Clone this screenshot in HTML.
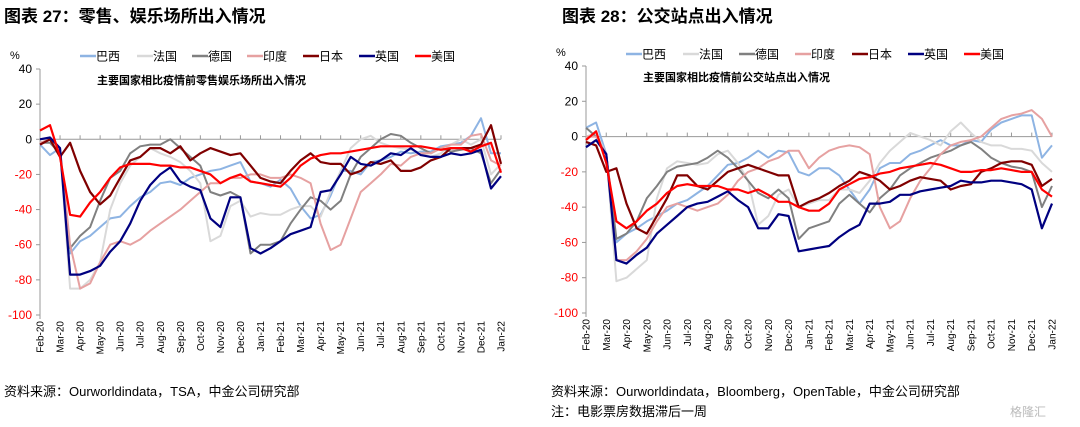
<!DOCTYPE html>
<html><head><meta charset="utf-8"><style>
body{margin:0;background:#fff;width:1080px;height:427px;overflow:hidden;font-family:"Liberation Sans","Noto Sans CJK SC",sans-serif;}
svg{display:block}
</style></head><body>
<svg id="svg" width="1080" height="427" xmlns="http://www.w3.org/2000/svg" font-family="Liberation Sans, Noto Sans CJK SC, sans-serif">
<text x="4" y="22" font-size="17" font-weight="bold" fill="#000">图表 27：零售、娱乐场所出入情况</text>
<text x="562" y="22" font-size="17" font-weight="bold" fill="#000">图表 28：公交站点出入情况</text>
<text x="4" y="396" font-size="13" fill="#000">资料来源：Ourworldindata，TSA，中金公司研究部</text>
<text x="551" y="396" font-size="13" fill="#000">资料来源：Ourworldindata，Bloomberg，OpenTable，中金公司研究部</text>
<text x="551" y="416" font-size="13" fill="#000">注：电影票房数据滞后一周</text>
<text x="1010" y="416" font-size="12" fill="#bbb">格隆汇</text>
<g id="left"></g>
<g id="right"></g>
</svg>
<script>
const months = ["Feb-20","Mar-20","Apr-20","May-20","Jun-20","Jul-20","Aug-20","Sep-20","Oct-20","Nov-20","Dec-20","Jan-21","Feb-21","Mar-21","Apr-21","May-21","Jun-21","Jul-21","Aug-21","Sep-21","Oct-21","Nov-21","Dec-21","Jan-22"];
const yTicks = [40,20,0,-20,-40,-60,-80,-100];
const seriesNames = ["巴西","法国","德国","印度","日本","英国","美国"];
// Left chart: retail & recreation (half-month steps)
const retailBrazil = [-3,-9,-5,-65,-58,-55,-50,-45,-44,-38,-33,-30,-25,-24,-26,-22,-20,-18,-17,-15,-13,-24,-25,-27,-23,-28,-38,-45,-43,-32,-18,-18,-20,-13,-12,-10,-7,-8,-7,-7,-4,-3,-2,2,12,-8,-8];
const retailFrance = [-2,0,-5,-85,-85,-80,-70,-40,-25,-15,-10,-5,-8,-10,-13,-18,-25,-58,-55,-38,-35,-44,-42,-43,-43,-40,-38,-38,-44,-30,-18,-5,0,2,-2,-4,-5,-6,-8,-10,-8,-3,0,-3,0,-20,-14];
const retailGermany = [-2,-2,-8,-62,-55,-50,-35,-22,-18,-8,-4,-3,-3,0,-5,-10,-15,-30,-32,-30,-33,-65,-60,-60,-58,-48,-40,-33,-35,-40,-35,-20,-10,-5,0,3,2,-2,-5,-8,-5,-7,-6,-5,-8,-25,-17];
const retailIndia = [-2,0,-5,-60,-85,-82,-70,-60,-58,-60,-57,-52,-48,-44,-40,-35,-30,-25,-25,-22,-22,-20,-20,-22,-22,-20,-22,-25,-48,-63,-60,-45,-30,-25,-20,-14,-15,-10,-8,-8,-5,-3,-3,2,3,-12,-15];
const retailJapan = [-3,0,-10,-2,-18,-30,-37,-32,-22,-12,-10,-5,-5,-8,-4,-12,-8,-5,-7,-9,-8,-15,-22,-24,-25,-18,-12,-8,-13,-14,-14,-20,-18,-13,-14,-12,-18,-18,-16,-12,-10,-5,-5,-5,-3,8,-14];
const retailUK = [0,1,-5,-77,-77,-75,-72,-64,-58,-48,-35,-26,-20,-16,-24,-27,-29,-45,-50,-33,-33,-62,-65,-62,-58,-54,-52,-50,-30,-29,-20,-10,-14,-15,-12,-8,-9,-5,-9,-10,-10,-8,-9,-8,-6,-28,-21];
const retailUS = [5,8,-10,-43,-44,-36,-30,-22,-16,-14,-14,-14,-15,-15,-16,-16,-18,-20,-25,-22,-20,-24,-25,-26,-27,-22,-15,-11,-9,-8,-8,-7,-6,-5,-4,-4,-4,-4,-4,-5,-6,-5,-5,-7,-4,-2,-19];
// Right chart: transit stations
const transitBrazil = [5,8,-10,-60,-55,-52,-48,-45,-42,-38,-36,-32,-28,-22,-16,-15,-12,-8,-12,-8,-9,-20,-22,-18,-18,-22,-30,-38,-30,-18,-15,-15,-10,-8,-5,-2,-5,-5,-2,-3,4,8,10,12,12,-12,-5];
const transitFrance = [0,2,-10,-82,-80,-75,-70,-35,-18,-14,-15,-16,-15,-10,-8,-15,-25,-50,-45,-33,-30,-40,-38,-36,-36,-30,-30,-32,-25,-15,-8,-3,2,0,-2,-5,3,8,2,-3,-5,-5,-7,-7,-8,-15,-20];
const transitGermany = [5,0,-10,-58,-55,-48,-35,-28,-20,-17,-16,-15,-12,-8,-12,-18,-25,-32,-35,-30,-35,-58,-52,-50,-48,-38,-33,-38,-43,-35,-30,-22,-18,-15,-12,-10,-8,-5,-3,-7,-12,-15,-17,-18,-20,-40,-28];
const transitIndia = [0,0,-10,-70,-70,-65,-58,-48,-40,-38,-40,-42,-40,-38,-33,-25,-20,-18,-14,-12,-8,-8,-18,-12,-8,-6,-5,-6,-10,-40,-52,-48,-35,-25,-18,-10,-5,-3,-2,0,5,10,12,13,15,10,0];
const transitJapan = [-3,-5,-20,-18,-38,-52,-55,-45,-35,-22,-22,-28,-30,-25,-20,-18,-16,-18,-20,-22,-22,-40,-37,-35,-32,-28,-25,-20,-22,-25,-30,-28,-25,-23,-24,-25,-30,-28,-27,-20,-18,-15,-14,-14,-16,-28,-24];
const transitUK = [-6,-2,-10,-70,-72,-67,-63,-55,-50,-45,-40,-38,-37,-34,-31,-36,-40,-52,-52,-44,-45,-65,-64,-63,-62,-57,-53,-50,-38,-38,-37,-33,-33,-31,-30,-29,-28,-25,-26,-26,-25,-25,-26,-27,-30,-52,-38];
const transitUS = [-2,3,-15,-48,-52,-48,-42,-38,-32,-28,-27,-28,-28,-28,-30,-30,-32,-30,-33,-37,-37,-40,-42,-42,-38,-30,-27,-24,-23,-21,-20,-18,-17,-16,-15,-16,-18,-20,-20,-19,-19,-18,-19,-20,-20,-30,-34];

const colors = ["#8EB4E3","#D9D9D9","#808080","#E6A1A1","#800000","#000080","#FF0000"];
const widths = [2,2,2,2,2.2,2.2,2.2];
const NS="http://www.w3.org/2000/svg";
function mk(tag, attrs, parent){const e=document.createElementNS(NS,tag);for(const k in attrs)e.setAttribute(k,attrs[k]);parent.appendChild(e);return e;}

function drawChart(g, cfg, data, key){
  const yS = v => cfg.y0 + (cfg.ymax - v) * (cfg.y1 - cfg.y0) / (cfg.ymax - cfg.ymin);
  const xS = i => cfg.x0 + i * (cfg.x1 - cfg.x0) / (data[0].length - 1);
  const mx = m => cfg.x0 + m * (cfg.x1 - cfg.x0) / (months.length - 1);
  // y axis
  const ya = mk('line',{x1:cfg.x0,x2:cfg.x0,y1:cfg.y0,y2:cfg.y1+4,stroke:'#999','stroke-width':1},g);
  
  
  yTicks.forEach(t=>{
    const tk = mk('line',{x1:cfg.x0-4,x2:cfg.x0,y1:yS(t),y2:yS(t),stroke:'#999'},g);
    
    
    const tx = mk('text',{x:cfg.x0-8,y:yS(t)+4,'font-size':12,'text-anchor':'end',fill:t<0?'#FF0000':'#000'},g);
    tx.textContent = t;
    
    
  });
  const pct = mk('text',{x:cfg.x0-30,y:cfg.y0-10,'font-size':11,fill:'#000'},g);
  pct.textContent='%';
  
  
  // zero line (x axis)
  const za = mk('line',{x1:cfg.x0,x2:cfg.x1,y1:yS(0),y2:yS(0),stroke:'#999'},g);
  
  
  months.forEach((m,i)=>{
    const tk = mk('line',{x1:mx(i),x2:mx(i),y1:yS(0)-4,y2:yS(0),stroke:'#999'},g);
    
    
    const tx = mk('text',{x:0,y:0,'font-size':10,'text-anchor':'end',fill:'#000',transform:`translate(${mx(i)+3.5},${cfg.y1+6}) rotate(-90)`},g);
    tx.textContent = m;
    
    
  });
  // subtitle
  const st = mk('text',{x:cfg.subX,y:cfg.y0+15,'font-size':11,'font-weight':'bold',fill:'#000'},g);
  st.textContent = cfg.sub;
  
  
  // legend
  seriesNames.forEach((n,s)=>{
    const lx = cfg.legX[s];
    const ln = mk('line',{x1:lx,x2:lx+16,y1:cfg.legY,y2:cfg.legY,stroke:colors[s],'stroke-width':2.5},g);
    
    
    const tx = mk('text',{x:lx+16,y:cfg.legY+4.5,'font-size':12,fill:'#000'},g);
    tx.textContent = n;
    
    
  });
  // series
  data.forEach((arr,s)=>{
    const d = arr.map((v,i)=>(i?'L':'M')+xS(i).toFixed(1)+','+yS(v).toFixed(1)).join('');
    const p = mk('path',{d:d,fill:'none',stroke:colors[s],'stroke-width':widths[s],'stroke-linejoin':'round'},g);
    
    
  });
}
drawChart(document.getElementById('left'),
  {x0:40,x1:501,y0:69,y1:315,ymax:40,ymin:-100,sub:'主要国家相比疫情前零售娱乐场所出入情况',subX:97,legX:[80,137,192,247,303,359,415],legY:56},
  [retailBrazil,retailFrance,retailGermany,retailIndia,retailJapan,retailUK,retailUS],'left');
drawChart(document.getElementById('right'),
  {x0:586,x1:1052,y0:66,y1:313,ymax:40,ymin:-100,sub:'主要国家相比疫情前公交站点出入情况',subX:643,legX:[626,683,739,795,852,908,964],legY:54},
  [transitBrazil,transitFrance,transitGermany,transitIndia,transitJapan,transitUK,transitUS],'right');
</script>
</body></html>
